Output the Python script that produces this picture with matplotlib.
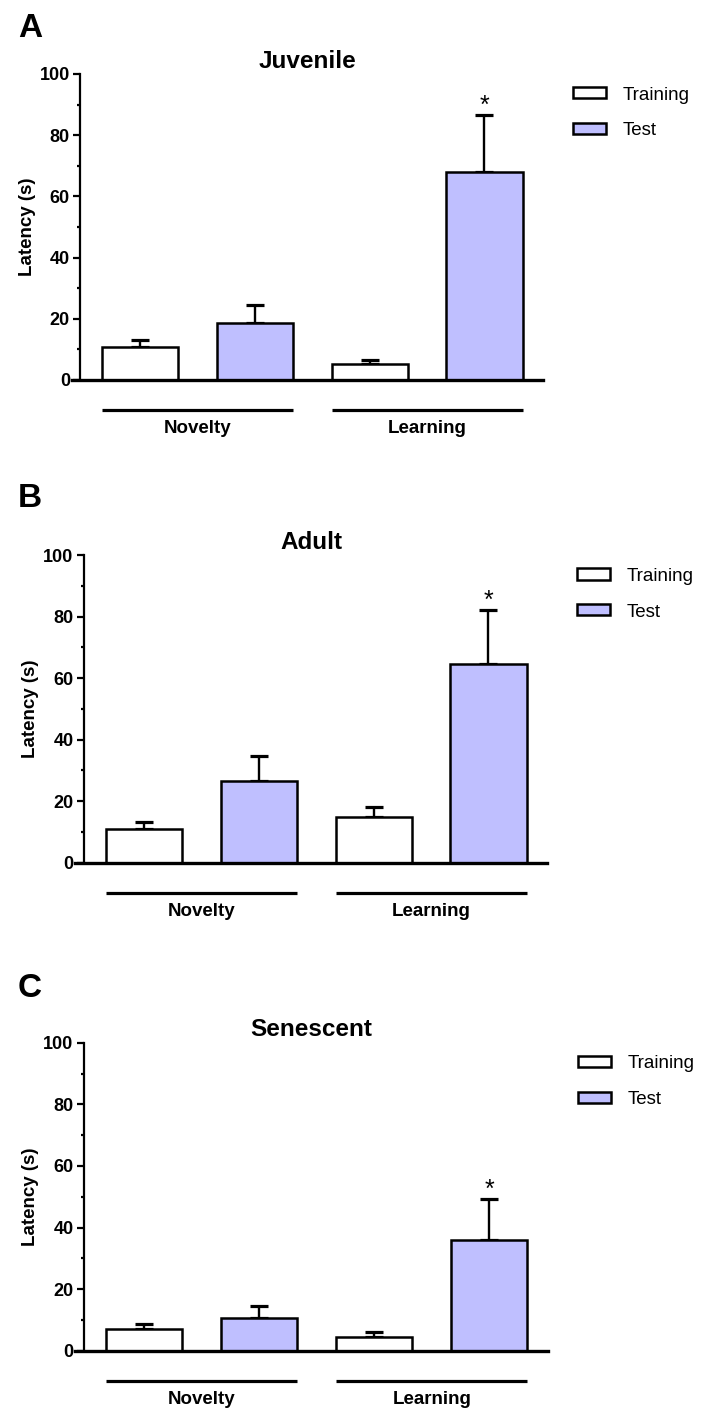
import matplotlib
matplotlib.use("Agg")
import matplotlib.pyplot as plt
from matplotlib.patches import FancyBboxPatch
from matplotlib.legend_handler import HandlerPatch
from matplotlib.ticker import MultipleLocator

plt.rcParams['font.family'] = ['Liberation Sans', 'DejaVu Sans']

# data
panels = ["A", "B", "C"]
titles = ["Juvenile", "Adult", "Senescent"]
groups = ["Novelty", "Learning"]
series = ["Training", "Test"]

juvenile_training = [10.7, 5.3]
juvenile_training_err = [2.4, 1.2]
juvenile_test = [18.5, 67.9]
juvenile_test_err = [5.9, 18.6]

adult_training = [10.9, 14.7]
adult_training_err = [2.3, 3.4]
adult_test = [26.7, 64.7]
adult_test_err = [8.1, 17.4]

senescent_training = [7.2, 4.4]
senescent_training_err = [1.5, 1.8]
senescent_test = [10.7, 36.1]
senescent_test_err = [3.8, 13.1]

training_vals = [juvenile_training, adult_training, senescent_training]
training_errs = [juvenile_training_err, adult_training_err, senescent_training_err]
test_vals = [juvenile_test, adult_test, senescent_test]
test_errs = [juvenile_test_err, adult_test_err, senescent_test_err]

# significant: Learning / Test in every panel
star_idx = 1

W, H = 701, 1410
fill_test = "#BFBFFF"


class RoundHandler(HandlerPatch):
    def create_artists(self, legend, orig_handle, xdescent, ydescent,
                       width, height, fontsize, trans):
        p = FancyBboxPatch((-xdescent, -ydescent), width, height,
                           boxstyle="round,pad=0,rounding_size=3",
                           fc=orig_handle.get_facecolor(), ec="black",
                           lw=2.2, transform=trans)
        return [p]


fig = plt.figure(figsize=(W / 100, H / 100), dpi=100)

# axes boxes in pixels: left, right, y of zero, y of 100
boxes = [(71.5, 543, 380, 74), (75, 547, 862.7, 555), (75, 548, 1350.7, 1042.7)]
letter_base = [37, 507, 997]

x_train = [0, 2]
x_test = [1, 3]
bw = 0.663

for i in range(3):
    l, r, y0, y1 = boxes[i]
    ax = fig.add_axes([l / W, 1 - y0 / H, (r - l) / W, (y0 - y1) / H])

    ax.errorbar(x_train, training_vals[i], yerr=[[0, 0], training_errs[i]],
                fmt="none", ecolor="black", elinewidth=1.7, capsize=6.5,
                capthick=2.3, zorder=1)
    ax.errorbar(x_test, test_vals[i], yerr=[[0, 0], test_errs[i]],
                fmt="none", ecolor="black", elinewidth=1.7, capsize=6.5,
                capthick=2.3, zorder=1)
    ax.bar(x_train, training_vals[i], width=bw, color="white",
           edgecolor="black", linewidth=1.8, label=series[0], zorder=2)
    ax.bar(x_test, test_vals[i], width=bw, color=fill_test,
           edgecolor="black", linewidth=1.8, label=series[1], zorder=2)

    top = test_vals[i][star_idx] + test_errs[i][star_idx]
    ax.annotate("*", (x_test[star_idx], top), xytext=(0, -2),
                textcoords="offset points", ha="center", va="bottom",
                fontsize=18)

    ax.set_xlim(-0.6, 3.51)
    ax.set_ylim(0, 100)
    ax.spines["top"].set_visible(False)
    ax.spines["right"].set_visible(False)
    ax.spines["left"].set_position(("data", -0.523))
    ax.spines["left"].set_linewidth(1.6)
    ax.spines["bottom"].set_linewidth(2.4)
    ax.set_xticks([])
    ax.yaxis.set_major_locator(MultipleLocator(20))
    ax.yaxis.set_minor_locator(MultipleLocator(10))
    ax.tick_params(axis="y", which="major", length=5, width=1.6, pad=2.5,
                   labelsize=13)
    ax.tick_params(axis="y", which="minor", length=2.5, width=1.6)
    for t in ax.get_yticklabels():
        t.set_fontweight("bold")
    ax.set_ylabel("Latency (s)", fontsize=13.5, fontweight="bold", labelpad=3)
    ax.set_title(titles[i], fontsize=17.5, fontweight="bold", pad=4.5)

    # group lines + labels under the axis
    trans = ax.get_xaxis_transform()
    for g in range(2):
        a = x_train[g] - bw / 2
        b = x_test[g] + bw / 2
        ax.plot([a, b], [-0.098, -0.098], color="black", lw=2.3,
                transform=trans, clip_on=False, solid_capstyle="butt")
        ax.text((a + b) / 2, -0.157, groups[g], transform=trans,
                ha="center", va="center", fontsize=13.5, fontweight="bold")

    ax.legend(loc="upper left", bbox_to_anchor=(1.063, 0.959), frameon=False,
              fontsize=13.5, handlelength=1.76, handleheight=0.53,
              handletextpad=0.9, labelspacing=1.01, borderpad=0,
              borderaxespad=0,
              handler_map={matplotlib.patches.Rectangle: RoundHandler()})

    fig.text(18 / W, 1 - letter_base[i] / H, panels[i], fontsize=24,
             fontweight="bold", ha="left", va="baseline")

fig.savefig("out.png", dpi=100)
